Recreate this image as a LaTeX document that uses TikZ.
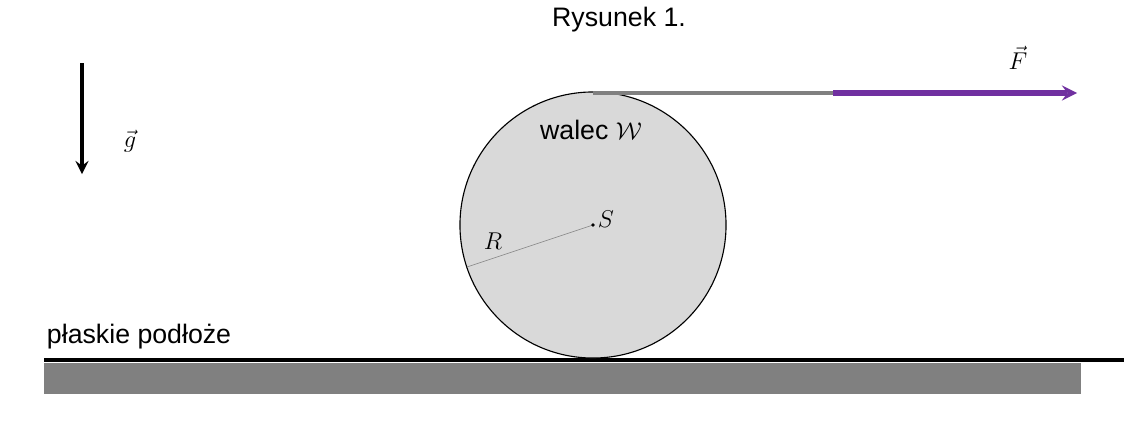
\documentclass[tikz,border=0pt]{standalone}
\usepackage{fontspec}
\setmainfont{Liberation Sans}
\usepackage{tikz}
\usetikzlibrary{arrows, positioning}
\definecolor{wheel}{HTML}{D9D9D9}
\definecolor{forcecol}{HTML}{7030A0}
\tikzstyle{arrow} = [line width=3pt,->,>=stealth]
\tikzset{every node/.style={align=center, font=\fontsize{19}{22}\selectfont}}
\begin{document}
\begin{tikzpicture}[x=0.025cm, y=-0.025cm]
    \useasboundingbox (0,0) rectangle (1124,422);
    \node (title) at (619,20) {Rysunek 1.};

    % gravity
    \coordinate (gtop) at (82,63);
    \coordinate (gbot) at (82,174);
    \draw [arrow] (gtop) -- (gbot);
    \node (glab) at (130,141) {$\vec{g}$};

    % ground
    \fill [gray] (44,363) rectangle (1081,394);
    \coordinate (gl) at (44,360);
    \coordinate (gr) at (1124,360);
    \draw [line width=2.2pt] (gl) -- (gr);
    \node (floor) [anchor=west] at (42,337) {płaskie podłoże};

    % cylinder
    \coordinate (S) at (593,225);
    \draw [fill=wheel, line width=0.8pt] (S) circle [radius=3.325cm];
    \coordinate (rim) at (467,267);
    \draw [gray, thin] (S) -- (rim);
    \fill (S) circle [radius=1.3pt];
    \node (slab) at (606,219) {$S$};
    \node (rlab) at (493,241) {$R$};
    \node (name) at (591,130) {walec $\mathcal{W}$};

    % force
    \coordinate (top) at (593,93);
    \coordinate (fstart) at (833,93);
    \coordinate (fend) at (1077,93);
    \draw [gray, line width=2.2pt] (top) -- (fstart);
    \draw [arrow, forcecol, line width=3.6pt] (fstart) -- (fend);
    \node (flab) at (1018,58) {$\vec{F}$};
\end{tikzpicture}
\end{document}
